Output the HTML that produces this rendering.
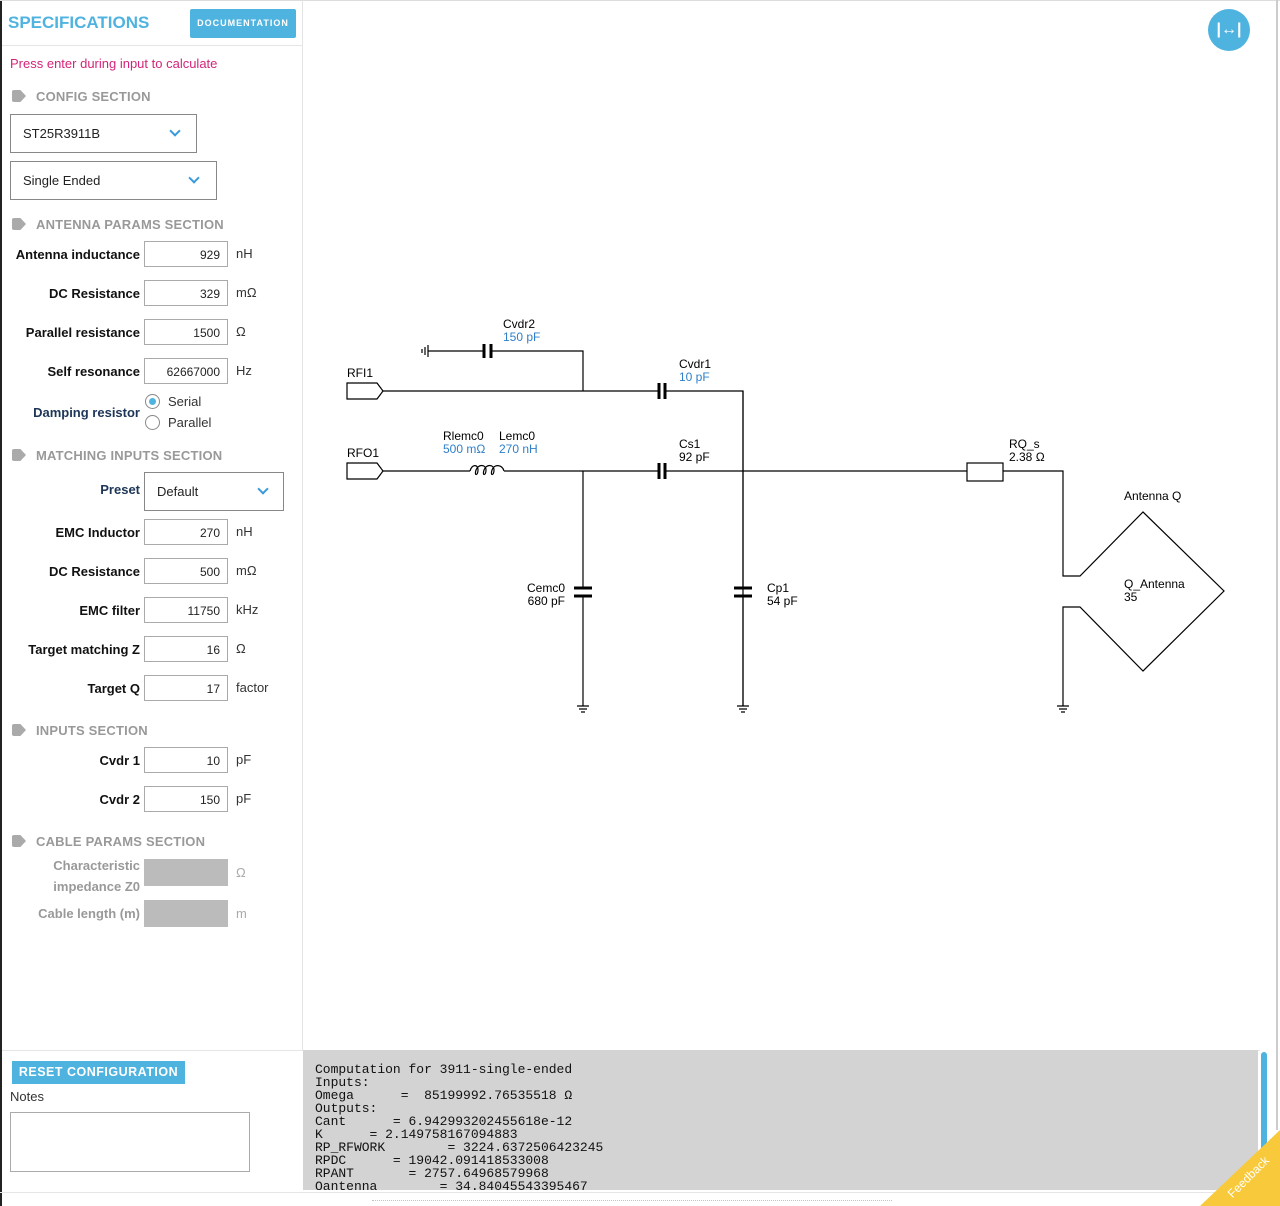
<!DOCTYPE html>
<html><head><meta charset="utf-8"><style>
*{box-sizing:border-box;margin:0;padding:0}
body{width:1280px;height:1206px;position:relative;background:#fff;font-family:"Liberation Sans",sans-serif;overflow:hidden}
.a{position:absolute}
.lbl{position:absolute;right:1140px;font-weight:bold;font-size:13px;color:#111;text-align:right;white-space:nowrap}
.inp{position:absolute;left:144px;width:84px;height:26px;border:1px solid #aaa;font-size:12px;text-align:right;padding:6px 7px 0 0;color:#222}
.unit{position:absolute;left:236px;font-size:13px;color:#333}
.sec{position:absolute;left:12px;font-size:13px;font-weight:bold;color:#999;letter-spacing:.2px}
.sec i{display:inline-block;width:14px;height:12px;background:#aaa;margin-right:10px;vertical-align:-1px;clip-path:polygon(0 0,60% 0,100% 50%,60% 100%,0 100%);border-radius:2px}
.sel{position:absolute;border:1px solid #888;font-size:13px;color:#222;padding-left:12px}
.chev{position:absolute;width:8px;height:8px;border-right:2px solid #3a9ad9;border-bottom:2px solid #3a9ad9;transform:rotate(45deg)}
pre{font-family:"Liberation Mono",monospace;font-size:13px;line-height:13px;color:#111}
</style></head><body>
<div class="a" style="left:0;top:0;width:2px;height:1206px;background:#222"></div>
<div class="a" style="left:302px;top:0;width:1px;height:1050px;background:#e4e4e4"></div>
<div class="a" style="left:0;top:0;width:1280px;height:1px;background:#ddd"></div>
<div class="a" style="left:2px;top:45px;width:300px;height:1px;background:#e6e6e6"></div>
<div class="a" style="left:8px;top:13px;font-size:17px;font-weight:bold;color:#4fb3e0">SPECIFICATIONS</div>
<div class="a" style="left:190px;top:9px;width:106px;height:29px;background:#4fb3e0;border-radius:2px;color:#fff;font-size:9px;font-weight:bold;letter-spacing:1px;text-align:center;line-height:29px">DOCUMENTATION</div>
<div class="a" style="left:10px;top:56px;font-size:13px;color:#d4247a">Press enter during input to calculate</div>
<div class="sec" style="top:89px"><i></i>CONFIG SECTION</div>
<div class="sel" style="left:10px;top:114px;width:187px;height:39px;line-height:37px">ST25R3911B<span class="chev" style="left:160px;top:12px"></span></div>
<div class="sel" style="left:10px;top:161px;width:207px;height:39px;line-height:37px">Single Ended<span class="chev" style="left:179px;top:12px"></span></div>
<div class="sec" style="top:217px"><i></i>ANTENNA PARAMS SECTION</div>
<div class="lbl" style="top:247px">Antenna inductance</div><div class="inp" style="top:241px">929</div><div class="unit" style="top:246px">nH</div>
<div class="lbl" style="top:286px">DC Resistance</div><div class="inp" style="top:280px">329</div><div class="unit" style="top:285px">mΩ</div>
<div class="lbl" style="top:325px">Parallel resistance</div><div class="inp" style="top:319px">1500</div><div class="unit" style="top:324px">Ω</div>
<div class="lbl" style="top:364px">Self resonance</div><div class="inp" style="top:358px">62667000</div><div class="unit" style="top:363px">Hz</div>
<div class="lbl" style="top:405px;color:#1d3557">Damping resistor</div>
<div class="a" style="left:145px;top:394px;width:15px;height:15px;border:1px solid #888;border-radius:50%"><div style="margin:3px;width:7px;height:7px;border-radius:50%;background:#4fb3e0"></div></div>
<div class="a" style="left:168px;top:394px;font-size:13px;color:#333">Serial</div>
<div class="a" style="left:145px;top:415px;width:15px;height:15px;border:1px solid #888;border-radius:50%"></div>
<div class="a" style="left:168px;top:415px;font-size:13px;color:#333">Parallel</div>
<div class="sec" style="top:448px"><i></i>MATCHING INPUTS SECTION</div>
<div class="lbl" style="top:482px;color:#1d3557">Preset</div>
<div class="sel" style="left:144px;top:472px;width:140px;height:39px;line-height:37px">Default<span class="chev" style="left:114px;top:12px"></span></div>
<div class="lbl" style="top:525px">EMC Inductor</div><div class="inp" style="top:519px">270</div><div class="unit" style="top:524px">nH</div>
<div class="lbl" style="top:564px">DC Resistance</div><div class="inp" style="top:558px">500</div><div class="unit" style="top:563px">mΩ</div>
<div class="lbl" style="top:603px">EMC filter</div><div class="inp" style="top:597px">11750</div><div class="unit" style="top:602px">kHz</div>
<div class="lbl" style="top:642px">Target matching Z</div><div class="inp" style="top:636px">16</div><div class="unit" style="top:641px">Ω</div>
<div class="lbl" style="top:681px">Target Q</div><div class="inp" style="top:675px">17</div><div class="unit" style="top:680px">factor</div>
<div class="sec" style="top:723px"><i></i>INPUTS SECTION</div>
<div class="lbl" style="top:753px">Cvdr 1</div><div class="inp" style="top:747px">10</div><div class="unit" style="top:752px">pF</div>
<div class="lbl" style="top:792px">Cvdr 2</div><div class="inp" style="top:786px">150</div><div class="unit" style="top:791px">pF</div>
<div class="sec" style="top:834px"><i></i>CABLE PARAMS SECTION</div>
<div class="lbl" style="top:855px;color:#999;line-height:21px">Characteristic<br>impedance Z0</div>
<div class="a" style="left:144px;top:859px;width:84px;height:27px;background:#bbb"></div><div class="unit" style="top:865px;color:#aaa">Ω</div>
<div class="lbl" style="top:906px;color:#999">Cable length (m)</div>
<div class="a" style="left:144px;top:900px;width:84px;height:27px;background:#bbb"></div><div class="unit" style="top:906px;color:#aaa">m</div>

<div class="a" style="left:2px;top:1050px;width:1258px;height:1px;background:#e6e6e6"></div>
<div class="a" style="left:12px;top:1061px;width:173px;height:23px;background:#4fb3e0;color:#fff;font-weight:bold;font-size:12.5px;line-height:23px;text-align:center;letter-spacing:.5px">RESET CONFIGURATION</div>
<div class="a" style="left:10px;top:1089px;font-size:13px;color:#333">Notes</div>
<div class="a" style="left:10px;top:1112px;width:240px;height:60px;border:1px solid #aaa"></div>
<div class="a" style="left:303px;top:1050px;width:955px;height:140px;background:#d3d3d3;overflow:hidden"><pre style="padding:13px 0 0 12px;letter-spacing:-0.01px">Computation for 3911-single-ended
Inputs:
Omega      =  85199992.76535518 Ω
Outputs:
Cant      = 6.942993202455618e-12
K      = 2.149758167094883
RP_RFWORK        = 3224.6372506423245
RPDC      = 19042.091418533008
RPANT       = 2757.64968579968
Qantenna        = 34.84045543395467</pre></div>
<div class="a" style="left:1261px;top:1052px;width:6px;height:100px;background:#4fb3e0;border-radius:3px"></div>
<div class="a" style="left:0;top:1192px;width:1280px;height:1px;background:#e6e6e6"></div>
<div class="a" style="left:372px;top:1200px;width:520px;height:6px;border-top:1px dotted #888;opacity:.5"></div>
<div class="a" style="left:1276px;top:0;width:2px;height:1130px;background:#ccc"></div>
<div class="a" style="left:1208px;top:9px;width:42px;height:42px;border-radius:50%;background:#4fb3e0;color:#fff;font-size:16px;text-align:center;line-height:42px;font-weight:bold">|↔|</div>
<div class="a" style="left:1200px;top:1130px;width:80px;height:76px;background:#f8c93a;clip-path:polygon(100% 0,100% 100%,0 100%)"></div>
<div class="a" style="left:1222px;top:1170px;color:#fff;font-size:12px;transform:rotate(-45deg)">Feedback</div>

<svg class="a" style="left:0;top:0" width="1280" height="1206" font-family="Liberation Sans, sans-serif" font-size="12">
<g stroke="#000" stroke-width="1.2" fill="none">
<path d="M347 383 H377 L383 391 L377 399 H347 Z"/>
<path d="M347 463 H377 L383 471 L377 479 H347 Z"/>
<path d="M383 391 H658 M665 391 H743 V706"/>
<path d="M583 391 V351 H491 M484 351 H428"/>
<path d="M383 471 H470 M504 471 H658 M665 471 H967 M1003 471 H1063 V576 H1080 L1143 512 L1224 591 L1143 671 L1080 607 H1063 V706"/>
<path d="M583 471 V588 M583 596 V706 M743 391 V588 M743 596 V706"/>
<rect x="967" y="463" width="36" height="18"/>
<path d="M470 471 C472 464 478 464 478 470 C478 476 474 476 476 470 C478 464 486 464 486 470 C486 476 482 476 484 470 C486 464 494 464 494 470 C494 476 490 476 492 470 C494 464 502 464 504 471"/>
<path d="M577 706 H589 M579 709 H587 M581 712 H585 M737 706 H749 M739 709 H747 M741 712 H745 M1057 706 H1069 M1059 709 H1067 M1061 712 H1065"/>
<path d="M428 345 V357 M425 347 V355 M422 349 V353"/>
</g>
<g stroke="#000" stroke-width="3" fill="none">
<path d="M484 344 V358 M491 344 V358 M659 383 V399 M665 383 V399 M659 463 V479 M665 463 V479 M574 588 H592 M574 596 H592 M734 588 H752 M734 596 H752"/>
</g>
<g fill="#000">
<text x="347" y="377">RFI1</text><text x="347" y="457">RFO1</text>
<text x="503" y="328">Cvdr2</text><text x="679" y="368">Cvdr1</text>
<text x="443" y="440">Rlemc0</text><text x="499" y="440">Lemc0</text>
<text x="679" y="448">Cs1</text><text x="679" y="461">92 pF</text>
<text x="1009" y="448">RQ_s</text><text x="1009" y="461">2.38 Ω</text>
<text x="1124" y="500">Antenna Q</text><text x="1124" y="588">Q_Antenna</text><text x="1124" y="601">35</text>
<text x="565" y="592" text-anchor="end">Cemc0</text><text x="565" y="605" text-anchor="end">680 pF</text>
<text x="767" y="592">Cp1</text><text x="767" y="605">54 pF</text>
</g>
<g fill="#2f7fc8">
<text x="503" y="341">150 pF</text><text x="679" y="381">10 pF</text>
<text x="443" y="453">500 mΩ</text><text x="499" y="453">270 nH</text>
</g>
</svg>
</body></html>
